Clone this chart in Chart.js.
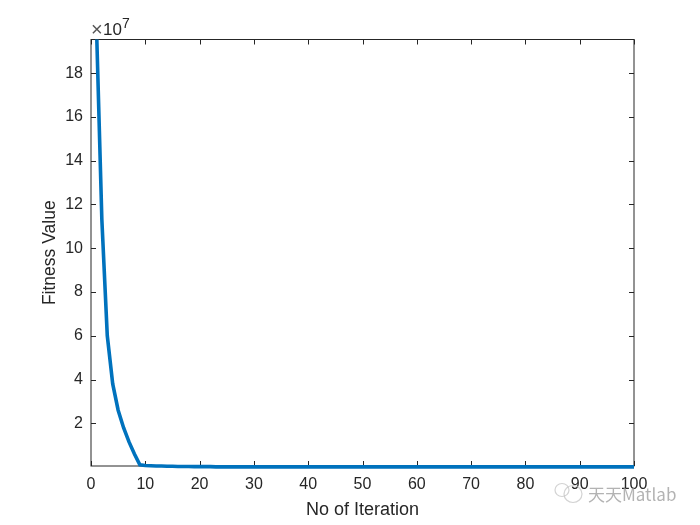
<!DOCTYPE html>
<html>
<head>
<meta charset="utf-8">
<style>
  html, body { margin: 0; padding: 0; background: #fff; }
  #wrap { position: relative; width: 700px; height: 525px; }
</style>
<script src="https://cdn.jsdelivr.net/npm/chart.js@4/dist/chart.umd.min.js"></script>
</head>
<body>
<div id="wrap"><canvas id="c" width="700" height="525"></canvas></div>
<script>
// fitness per iteration (units of 10^7)
const fitness = [
  20.2, 11.3, 6.0, 3.8, 2.6, 1.8, 1.15, 0.6, 0.1, 0.07,
  0.06, 0.05, 0.05, 0.04, 0.04, 0.03, 0.03, 0.03, 0.02, 0.02,
  0.02, 0.02, 0.01, 0.01, 0.01, 0.01, 0.01, 0.01, 0.01, 0.01,
  0.01, 0.01, 0.01, 0.01, 0.01, 0.01, 0.01, 0.01, 0.01, 0.01,
  0.01, 0.01, 0.01, 0.01, 0.01, 0.01, 0.01, 0.01, 0.01, 0.01,
  0.01, 0.01, 0.01, 0.01, 0.01, 0.01, 0.01, 0.01, 0.01, 0.01,
  0.01, 0.01, 0.01, 0.01, 0.01, 0.01, 0.01, 0.01, 0.01, 0.01,
  0.01, 0.01, 0.01, 0.01, 0.01, 0.01, 0.01, 0.01, 0.01, 0.01,
  0.01, 0.01, 0.01, 0.01, 0.01, 0.01, 0.01, 0.01, 0.01, 0.01,
  0.01, 0.01, 0.01, 0.01, 0.01, 0.01, 0.01, 0.01, 0.01, 0.01
];
const xTicks = [0, 10, 20, 30, 40, 50, 60, 70, 80, 90, 100];
const yTicks = [2, 4, 6, 8, 10, 12, 14, 16, 18];
const yMin = 0.05, yMax = 19.54;

const axisColor = '#262626';
const fontName = '"Liberation Sans", Arial, sans-serif';

// MATLAB style box: ticks point inwards on all four sides, line sits on top
const boxPlugin = {
  id: 'box',
  beforeDatasetsDraw(chart) {
    const { ctx, chartArea: a, scales } = chart;
    ctx.save();
    ctx.strokeStyle = axisColor;
    ctx.lineWidth = 1;
    ctx.strokeRect(a.left, a.top, a.right - a.left, a.bottom - a.top);
    ctx.beginPath();
    xTicks.forEach(t => {
      const px = Math.round(scales.x.getPixelForValue(t)) + 0.5;
      ctx.moveTo(px, a.bottom); ctx.lineTo(px, a.bottom - 5);
      ctx.moveTo(px, a.top); ctx.lineTo(px, a.top + 5);
    });
    yTicks.forEach(t => {
      const py = Math.round(scales.y.getPixelForValue(t)) + 0.5;
      ctx.moveTo(a.left, py); ctx.lineTo(a.left + 5, py);
      ctx.moveTo(a.right, py); ctx.lineTo(a.right - 5, py);
    });
    ctx.stroke();
    ctx.restore();
  },
  afterDatasetsDraw(chart) {
    const { ctx } = chart;
    ctx.save();

    // exponent above the y axis
    ctx.fillStyle = '#555';
    ctx.textBaseline = 'alphabetic';
    ctx.textAlign = 'left';
    ctx.font = '20px ' + fontName;
    ctx.fillText('\u00d7', 91, 36);
    ctx.fillStyle = axisColor;
    ctx.font = '17px ' + fontName;
    ctx.fillText('10', 103, 35);
    ctx.font = '14px ' + fontName;
    ctx.fillText('7', 122, 28);

    // watermark
    ctx.globalAlpha = 0.75;
    ctx.strokeStyle = '#c4c4c4';
    ctx.lineWidth = 1.2;
    ctx.beginPath();
    ctx.ellipse(562, 490, 7, 6.5, 0, 0, Math.PI * 2);
    ctx.stroke();
    ctx.beginPath();
    ctx.ellipse(573, 494, 9, 8.5, 0, 0, Math.PI * 2);
    ctx.stroke();
    ctx.fillStyle = '#9a9a9a';
    ctx.font = '17px "Noto Sans CJK SC", ' + fontName;
    ctx.fillText('\u5929\u5929Matlab', 588, 501);
    ctx.restore();
  }
};

new Chart(document.getElementById('c').getContext('2d'), {
  type: 'line',
  data: {
    datasets: [{
      data: fitness.map((v, i) => ({ x: i + 1, y: v })),
      borderColor: '#0072BD',
      borderWidth: 3.6,
      pointRadius: 0,
      tension: 0,
      clip: { left: 2, top: 0, right: 1, bottom: 3 }
    }]
  },
  options: {
    responsive: false,
    animation: false,
    layout: { padding: { left: 0, top: 39.5, right: 66, bottom: 0 } },
    plugins: { legend: { display: false }, tooltip: { enabled: false } },
    scales: {
      x: {
        type: 'linear',
        min: 0,
        max: 100,
        afterBuildTicks: s => { s.ticks = xTicks.map(v => ({ value: v })); },
        afterFit: s => { s.height = 59; },
        grid: { display: false },
        border: { display: false },
        ticks: {
          color: axisColor,
          maxRotation: 0,
          autoSkip: false,
          padding: 1,
          font: { family: fontName, size: 16 }
        },
        title: {
          display: true,
          text: 'No of Iteration',
          color: axisColor,
          padding: { top: 2, bottom: 4 },
          font: { family: fontName, size: 18 }
        }
      },
      y: {
        min: yMin,
        max: yMax,
        afterBuildTicks: s => { s.ticks = yTicks.map(v => ({ value: v })); },
        afterFit: s => { s.width = 91; },
        grid: { display: false },
        border: { display: false },
        ticks: {
          color: axisColor,
          autoSkip: false,
          padding: 0,
          font: { family: fontName, size: 16 }
        },
        title: {
          display: true,
          text: 'Fitness Value',
          color: axisColor,
          padding: { top: 40, bottom: 0 },
          font: { family: fontName, size: 17.5 }
        }
      }
    }
  },
  plugins: [boxPlugin]
});
</script>
</body>
</html>
